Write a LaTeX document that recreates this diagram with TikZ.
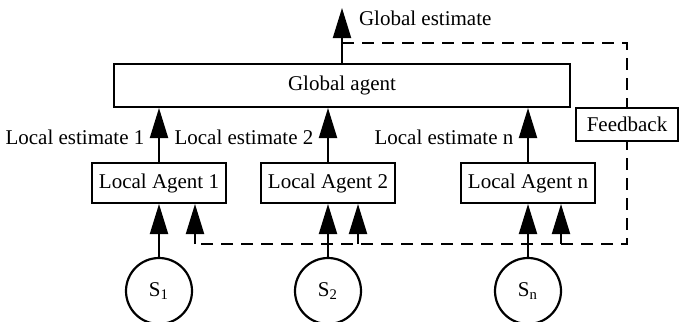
\documentclass[tikz,border=0pt]{standalone}
\usepackage{fontspec}
\setmainfont{Liberation Serif}
\usetikzlibrary{arrows.meta}

\begin{document}
\begin{tikzpicture}[x=0.5pt,y=-0.5pt,
	font=\fontsize{10.5}{12}\selectfont,
	agentbox/.style={draw, line width=1pt, minimum width=67pt, minimum height=20pt, inner sep=0pt},
	source/.style={draw, circle, line width=1.1pt, minimum size=33pt, inner sep=0pt},
	arr/.style={line width=1pt, -{Triangle[length=15pt,width=9pt]}},
	fbline/.style={line width=1.2pt, dash pattern=on 6pt off 4pt}]
	\useasboundingbox (0,0) rectangle (683,321);
	% global agent and its output
	\node[draw, line width=1pt, minimum width=228pt, minimum height=21.5pt, inner sep=0pt] (global) at (342,85.5) {Global agent};
	\coordinate (gout) at (342,8);
	\draw[arr] (global.north) -- (gout);
	\node[anchor=west] (gest) at (352,18) {Global estimate};
	% local agents and sources
	\node[agentbox] (la1) at (159,183) {Local Agent 1};
	\node[agentbox] (la2) at (328,183) {Local Agent 2};
	\node[agentbox] (lan) at (528,183) {Local Agent n};
	\node[source] (s1) at (159,291) {S\textsubscript{1}};
	\node[source] (s2) at (328,291) {S\textsubscript{2}};
	\node[source] (sn) at (528,291) {S\textsubscript{n}};
	\draw[arr] (s1) -- (la1);
	\draw[arr] (s2) -- (la2);
	\draw[arr] (sn) -- (lan);
	\draw[arr] (la1.north) -- node[pos=0.45, left=3.5pt] (le1) {Local estimate 1} (la1.north |- global.south);
	\draw[arr] (la2.north) -- node[pos=0.45, left=3.5pt] (le2) {Local estimate 2} (la2.north |- global.south);
	\draw[arr] (lan.north) -- node[pos=0.45, left=3.5pt] (len) {Local estimate n} (lan.north |- global.south);
	% feedback loop
	\coordinate (fbout) at (342,43);
	\coordinate (fbcorner) at (627,43);
	\coordinate (fbbottom) at (627,244);
	\coordinate (fb1) at (195,244);
	\coordinate (fb2) at (358,244);
	\coordinate (fbn) at (561,244);
	\draw[fbline] (fbout) -- (fbcorner) -- (fbbottom) -- (fb1);
	\draw[arr] (fb1) -- (fb1 |- la1.south);
	\draw[arr] (fb2) -- (fb2 |- la2.south);
	\draw[arr] (fbn) -- (fbn |- lan.south);
	\node[draw, fill=white, line width=1pt, minimum width=51pt, minimum height=16.5pt, inner sep=0pt] (fb) at (627,124.5) {Feedback};
\end{tikzpicture}
\end{document}
